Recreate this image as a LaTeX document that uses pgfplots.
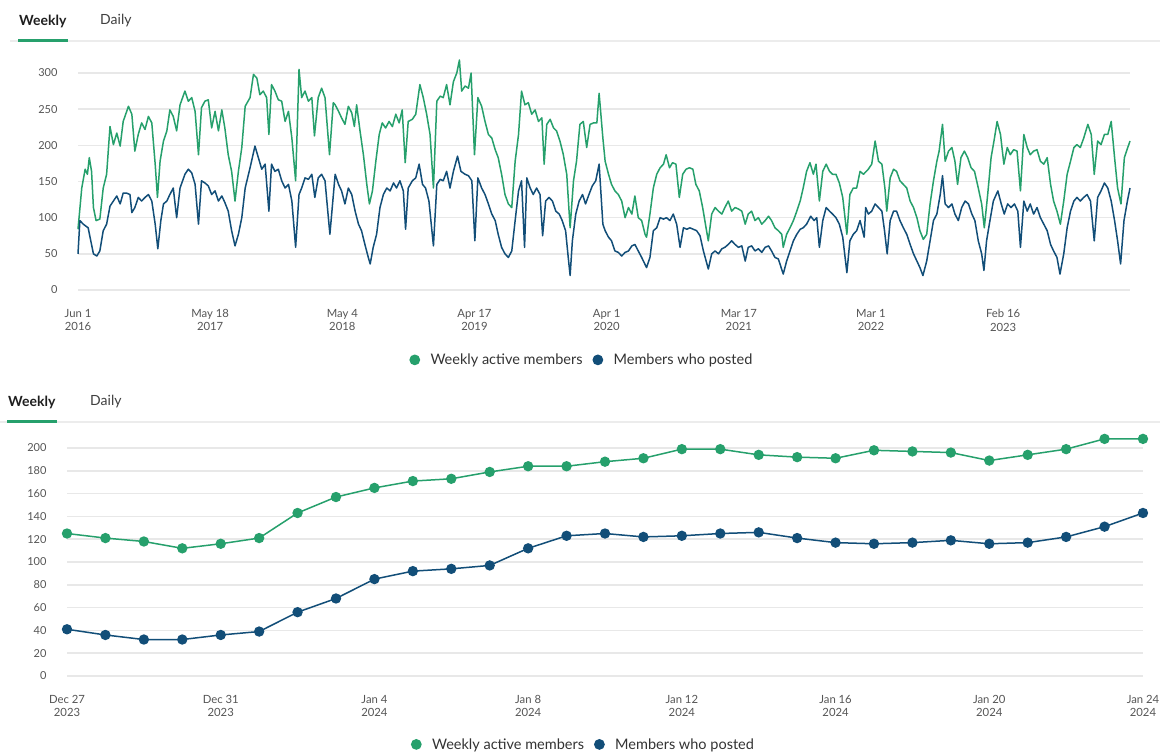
\documentclass[border=0pt]{standalone}
\usepackage{fontspec}
\setmainfont{Lato}
\usepackage{pgfplots}
\usepackage{pgfplotstable}
\pgfplotsset{compat=1.18}
\definecolor{wgreen}{RGB}{38,160,108}
\definecolor{mblue}{RGB}{18,78,120}
\definecolor{gridc}{RGB}{232,232,232}
\definecolor{tickc}{RGB}{85,85,85}
\definecolor{sepc}{RGB}{236,236,236}

\pgfplotstableread{
d v
0 84
10 141
19 167
25 160
30 183
36 164
41 114
48 96
58 98
67 141
76 160
85 226
94 201
103 217
112 199
120 233
134 254
143 243
151 192
160 215
169 231
178 222
187 240
196 231
205 174
211 128
218 178
227 206
236 220
244 249
253 240
262 220
271 256
284 275
293 261
302 266
311 247
320 187
328 252
337 261
346 263
355 224
364 247
373 220
382 249
390 224
399 187
408 164
417 123
426 164
435 197
444 254
457 266
466 298
475 293
483 270
492 275
501 266
507 215
514 284
523 275
532 263
541 261
550 233
559 247
568 210
578 151
587 305
594 266
603 275
612 261
621 266
628 213
638 266
647 279
656 266
668 187
678 259
683 256
692 247
700 238
709 229
718 254
727 245
734 226
740 256
749 220
758 187
767 146
774 119
782 137
791 178
800 215
808 231
817 224
826 233
835 226
844 243
853 231
861 249
869 176
877 233
888 236
897 243
908 284
917 266
926 243
935 215
944 141
953 261
962 268
970 266
979 284
988 256
997 288
1006 300
1013 318
1019 275
1028 282
1037 279
1044 300
1053 187
1062 266
1072 254
1081 233
1090 215
1099 210
1108 194
1116 183
1125 160
1134 132
1143 119
1152 114
1161 178
1170 215
1178 275
1187 256
1196 259
1205 243
1214 249
1223 233
1232 238
1238 174
1245 229
1254 236
1263 224
1271 220
1280 206
1289 187
1298 160
1307 86
1316 151
1324 178
1333 229
1342 233
1351 197
1360 229
1369 231
1378 231
1384 272
1394 210
1400 178
1409 160
1417 146
1426 137
1435 132
1444 123
1453 100
1462 114
1471 105
1479 130
1488 100
1497 96
1506 77
1510 73
1519 105
1528 141
1537 160
1546 169
1555 174
1562 187
1571 169
1579 176
1588 174
1597 128
1606 160
1615 167
1624 169
1633 167
1641 146
1650 137
1659 114
1668 86
1674 68
1683 105
1692 114
1701 109
1710 105
1718 114
1727 123
1736 109
1745 114
1754 112
1763 109
1772 91
1780 105
1789 109
1798 96
1807 100
1816 91
1825 96
1834 102
1842 96
1851 86
1860 82
1869 77
1873 59
1882 77
1891 86
1900 96
1909 109
1918 123
1926 141
1935 164
1944 176
1953 160
1960 174
1969 123
1978 164
1987 174
1996 164
2004 160
2013 160
2022 148
2031 128
2042 77
2050 132
2059 141
2068 141
2077 164
2086 160
2099 167
2108 174
2117 206
2126 178
2135 174
2143 141
2148 109
2157 155
2166 167
2174 164
2183 151
2192 146
2201 141
2210 123
2219 114
2228 100
2236 82
2245 70
2254 77
2263 119
2272 151
2281 178
2287 192
2296 229
2303 178
2312 192
2321 197
2329 178
2336 146
2345 183
2354 192
2363 183
2372 169
2381 164
2391 141
2400 119
2407 86
2416 132
2425 183
2434 210
2441 233
2450 215
2459 174
2468 197
2476 187
2485 194
2494 192
2503 137
2512 215
2521 197
2529 187
2538 192
2547 194
2556 178
2565 174
2574 183
2583 146
2591 123
2600 109
2609 91
2618 123
2627 160
2636 178
2645 197
2653 201
2662 197
2671 210
2682 229
2691 215
2699 160
2708 206
2717 201
2726 215
2735 215
2744 233
2753 183
2761 141
2770 119
2779 183
2788 197
2794 206
}\greenlong

\pgfplotstableread{
d v
0 50
5 96
14 91
27 86
32 73
41 50
50 47
58 54
67 82
76 91
85 116
94 123
103 130
112 119
120 134
129 134
138 132
143 107
151 114
160 128
169 123
178 128
187 132
196 123
205 91
212 57
220 96
227 119
236 123
244 132
253 141
262 100
271 141
284 160
293 167
302 162
311 146
320 91
328 151
337 148
346 144
355 132
364 137
373 123
382 130
390 121
399 109
408 82
417 61
426 77
435 100
444 141
457 169
470 199
479 183
488 167
497 174
507 109
514 174
523 164
532 167
541 151
550 141
559 146
568 123
578 59
587 132
594 141
603 155
612 153
621 160
629 128
638 155
647 160
656 151
669 77
683 160
692 146
700 137
709 119
718 141
727 132
736 109
745 91
753 82
762 63
771 45
776 36
784 59
793 77
802 114
811 132
820 141
829 137
838 148
846 141
855 151
864 137
870 84
877 141
888 151
897 155
906 174
915 146
923 141
932 123
944 61
953 146
962 153
970 151
979 164
988 141
997 164
1008 185
1017 164
1028 160
1037 158
1046 151
1054 68
1062 155
1072 141
1081 132
1090 119
1099 105
1108 96
1116 77
1125 59
1134 50
1143 45
1152 54
1161 96
1170 137
1178 151
1186 59
1192 155
1201 141
1209 132
1218 141
1227 132
1234 75
1242 123
1251 128
1260 123
1269 109
1278 105
1286 96
1295 82
1302 45
1307 20
1313 68
1322 105
1331 123
1340 132
1348 119
1357 132
1366 144
1375 151
1384 174
1394 91
1400 82
1409 73
1417 68
1426 54
1435 52
1444 47
1453 52
1462 54
1471 61
1479 63
1488 54
1497 45
1510 31
1519 45
1528 82
1537 86
1546 100
1555 98
1563 100
1572 96
1581 105
1590 91
1599 59
1608 86
1617 84
1625 86
1634 84
1643 82
1652 75
1661 54
1674 29
1683 50
1692 54
1701 50
1710 57
1718 59
1727 63
1736 68
1745 63
1754 59
1763 61
1772 40
1780 59
1789 61
1798 54
1807 57
1816 52
1825 59
1834 61
1842 54
1851 45
1860 43
1873 22
1882 40
1891 54
1900 68
1909 77
1918 84
1926 86
1935 91
1946 102
1955 96
1962 100
1969 59
1978 96
1987 114
1996 109
2004 105
2013 100
2022 91
2031 73
2042 24
2050 68
2059 77
2068 82
2077 96
2088 73
2092 114
2099 105
2108 109
2117 119
2126 114
2135 109
2142 82
2149 50
2157 96
2166 109
2174 109
2183 96
2192 86
2201 77
2210 63
2219 50
2228 40
2236 31
2244 20
2254 40
2263 68
2272 96
2281 105
2290 132
2296 158
2303 119
2312 114
2321 119
2329 105
2338 96
2347 114
2356 123
2365 119
2374 105
2382 96
2391 68
2400 50
2406 27
2413 68
2422 96
2431 123
2443 137
2452 119
2460 105
2469 119
2478 114
2487 119
2496 109
2503 59
2512 123
2521 109
2529 119
2538 105
2547 114
2556 100
2565 91
2574 82
2583 63
2591 54
2600 45
2608 22
2618 50
2627 86
2636 109
2645 123
2653 128
2662 123
2671 128
2680 132
2689 123
2699 68
2708 128
2717 137
2726 148
2735 141
2744 123
2753 96
2761 68
2769 36
2778 96
2787 123
2794 141
}\bluelong

\pgfplotstableread{
d v
0 125
1 121
2 118
3 112
4 116
5 121
6 143
7 157
8 165
9 171
10 173
11 179
12 184
13 184
14 188
15 191
16 199
17 199
18 194
19 192
20 191
21 198
22 197
23 196
24 189
25 194
26 199
27 208
28 208
}\greenshort

\pgfplotstableread{
d v
0 41
1 36
2 32
3 32
4 36
5 39
6 56
7 68
8 85
9 92
10 94
11 97
12 112
13 123
14 125
15 122
16 123
17 125
18 126
19 121
20 117
21 116
22 117
23 119
24 116
25 117
26 122
27 131
28 143
}\blueshort

\pgfplotsset{
  panel/.style={
    scale only axis,
    anchor=south west,
    axis line style={draw=none},
    major tick length=0pt,
    ymajorgrids,
    major grid style={gridc, line width=1.6pt},
    /pgf/number format/assume math mode=true,
    yticklabel style={font=\fontsize{11}{13}\selectfont, text=tickc, xshift=-17pt},
    xticklabel style={font=\fontsize{11.3}{13.2}\selectfont, text=tickc, align=center, yshift=-16pt},
    clip=false,
    legend columns=2,
    legend cell align=left,
    legend style={draw=none, fill=none, anchor=center,
      font=\fontsize{14.5}{16}\selectfont, text=black!80,
      /tikz/every even column/.append style={column sep=8pt}},
    legend image code/.code={\fill[##1] (0pt,0pt) circle (4.6pt); \path (13pt,0pt);},
  }
}

\begin{document}
\begin{tikzpicture}
\path[use as bounding box] (0pt,0pt) rectangle (1160pt,-753pt);
\fill[white] (0pt,0pt) rectangle (1160pt,-753pt);
% top tabs
\node[anchor=west, inner sep=0pt, font=\fontsize{14}{16}\selectfont\bfseries, text=black!88] at (19pt,-21pt) {Weekly};
\node[anchor=west, inner sep=0pt, font=\fontsize{14}{16}\selectfont, text=black!75] at (100pt,-21pt) {Daily};
\draw[sepc, line width=2pt] (10pt,-41pt) -- (1160pt,-41pt);
\draw[wgreen, line width=2.6pt] (18pt,-40.5pt) -- (68pt,-40.5pt);
% bottom tabs
\node[anchor=west, inner sep=0pt, font=\fontsize{14}{16}\selectfont\bfseries, text=black!88] at (8pt,-402pt) {Weekly};
\node[anchor=west, inner sep=0pt, font=\fontsize{14}{16}\selectfont, text=black!75] at (90pt,-402pt) {Daily};
\draw[sepc, line width=2pt] (0pt,-422pt) -- (1160pt,-422pt);
\draw[wgreen, line width=2.6pt] (7pt,-421.5pt) -- (57pt,-421.5pt);

\begin{axis}[panel,
  at={(78pt,-290pt)}, width=1052pt, height=217pt,
  xmin=0, xmax=2794, ymin=0, ymax=300,
  ytick={0,50,100,150,200,250,300},
  xtick={0,351,702,1053,1404,1755,2106,2457},
  xticklabels={{Jun 1\\2016},{May 18\\2017},{May 4\\2018},{Apr 17\\2019},{Apr 1\\2020},{Mar 17\\2021},{Mar 1\\2022},{Feb 16\\2023}},
  legend style={at={(axis description cs:0.479,-0.322)}},
]
\addplot[wgreen, line width=1.5pt, line join=round] table[x=d,y=v] {\greenlong};
\addlegendentry{Weekly active members}
\addplot[mblue, line width=1.5pt, line join=round] table[x=d,y=v] {\bluelong};
\addlegendentry{Members who posted}
\end{axis}

\begin{axis}[panel,
  at={(67pt,-676pt)}, width=1076pt, height=228pt,
  xmin=0, xmax=28, ymin=0, ymax=200,
  ytick={0,20,...,200},
  xtick={0,4,...,28},
  xticklabels={{Dec 27\\2023},{Dec 31\\2023},{Jan 4\\2024},{Jan 8\\2024},{Jan 12\\2024},{Jan 16\\2024},{Jan 20\\2024},{Jan 24\\2024}},
  legend style={at={(axis description cs:0.480,-0.300)}},
]
\addplot[wgreen, line width=1.5pt, mark=*, mark size=4.4pt] table[x=d,y=v] {\greenshort};
\addlegendentry{Weekly active members}
\addplot[mblue, line width=1.5pt, mark=*, mark size=4.4pt] table[x=d,y=v] {\blueshort};
\addlegendentry{Members who posted}
\end{axis}
\end{tikzpicture}
\end{document}
